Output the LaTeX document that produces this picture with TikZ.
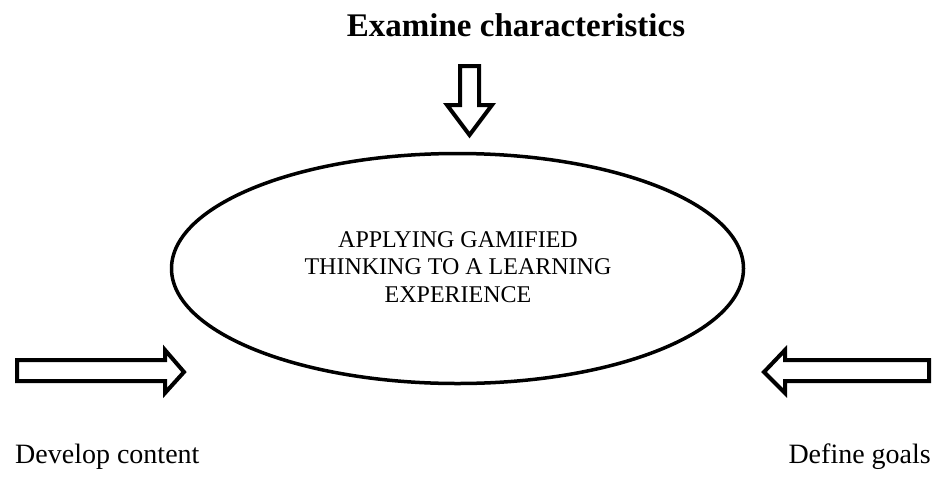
\documentclass[tikz,border=0pt]{standalone}
\usepackage{fontspec}
\setmainfont{Liberation Serif}
\begin{document}
\begin{tikzpicture}[x=1pt,y=-1pt,
  blockarrow/.style={draw=black,line width=4pt,fill=white,line join=miter},
  ring/.style={draw=black,line width=3.5pt},
  label/.style={inner sep=0pt,font=\fontsize{28}{32}\selectfont},
  midtext/.style={align=center,inner sep=0pt,font=\fontsize{24}{27.5}\selectfont}]
\useasboundingbox (0,0) rectangle (933,490);
% ellipse
\draw[ring] (457.5,268.5) ellipse [x radius=286, y radius=115];
\node[midtext,anchor=base] (center) at (458,302) {APPLYING GAMIFIED\\THINKING TO A LEARNING\\EXPERIENCE};
% top label and arrow
\node[label,font=\fontsize{33}{36}\selectfont\bfseries,anchor=base] (top) at (516,36) {Examine characteristics};
\draw[blockarrow] (460,66) -- (479,66) -- (479,105) -- (492,105) -- (469.5,135) -- (447,105) -- (460,105) -- cycle;
% left arrow
\draw[blockarrow] (17,360) -- (165,360) -- (165,350) -- (184,372) -- (165,393) -- (165,381) -- (17,381) -- cycle;
\node[label,anchor=base west] (dev) at (15,463) {Develop content};
% right arrow
\draw[blockarrow] (929,360) -- (785,360) -- (785,350) -- (764,372) -- (785,393) -- (785,381) -- (929,381) -- cycle;
\node[label,anchor=base east] (goals) at (931,463) {Define goals};
\end{tikzpicture}
\end{document}
